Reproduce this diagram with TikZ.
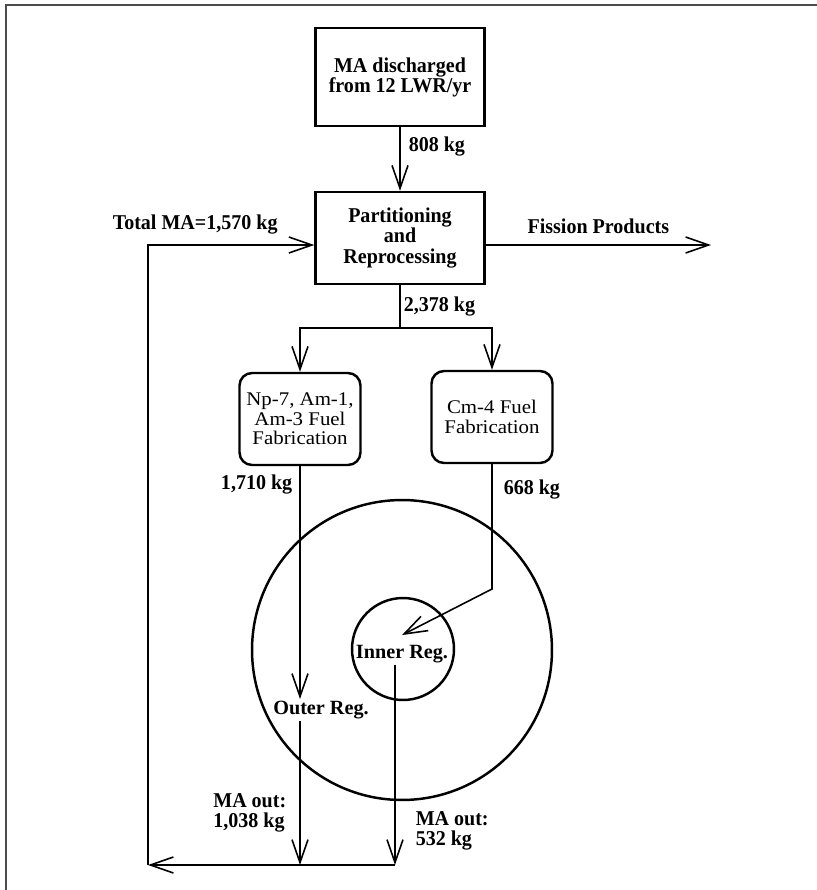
\documentclass[tikz,border=0pt]{standalone}
\usepackage{fontspec}
\setmainfont{Liberation Serif}
\newfontfamily\narrowfont{Liberation Serif}[FakeStretch=0.95]
\newfontfamily\widefont{Liberation Serif}[FakeStretch=1.08]
\usetikzlibrary{positioning,arrows.meta,calc}
\tikzset{
    x=0.02cm,
    y=-0.02cm,
    process/.style = {
        draw,
        shape=rectangle,
        minimum width=3.38cm,
        minimum height=1.9cm,
        line width=1.4pt,
        align=center,
        font=\narrowfont\bfseries\fontsize{12}{11.4}\selectfont
    },
    fabrication/.style = {
        draw,
        shape=rectangle,
        rounded corners=0.25cm,
        minimum width=2.42cm,
        minimum height=1.84cm,
        line width=1.4pt,
        align=center,
        font=\widefont\fontsize{11}{11.2}\selectfont
    },
    region/.style = {
        draw,
        shape=circle,
        inner sep=0pt,
        line width=1.4pt
    },
    regname/.style = {
        font=\bfseries\fontsize{11.5}{12}\selectfont,
        inner sep=1pt
    },
    amount/.style = {
        font=\narrowfont\bfseries\fontsize{12}{11.4}\selectfont,
        align=left,
        inner sep=0pt
    },
    flow/.style = {
        draw,
        line width=0.9pt,
        ->
    },
    >={Straight Barb[length=4.6mm,width=3.2mm]},
}

\begin{document}
\begin{tikzpicture}
            \useasboundingbox (0,0) rectangle (817,890);
            \draw[line width=1.2pt, black!70] (6,890) -- (6,5) -- (817,5);

            \node[process, minimum height=1.96cm] (source) at (400,77) {MA discharged\\from 12 LWR/yr};
            \node[process, minimum height=1.84cm] (partition) at (400,238) {Partitioning\\and\\Reprocessing};
            \node[fabrication] (npfab) at (300,419) {Np-7, Am-1,\\Am-3 Fuel\\Fabrication};
            \node[fabrication] (cmfab) at (492,417) {Cm-4 Fuel\\Fabrication};
            \node[region, minimum size=6cm] (outer) at (402,650) {};
            \node[region, minimum size=2.04cm] (inner) at (403,649) {};
            \node[regname] (innerlab) at (402,654) {Inner Reg.};
            \node[regname] (outerlab) at (321,710) {Outer Reg.};

            \coordinate (split) at (400,328);
            \coordinate (bend) at (497,589);
            \coordinate (outjoin) at (300,865);
            \coordinate (innjoin) at (395,865);
            \coordinate (loopbl) at (148,865);
            \coordinate (looptl) at (148,245);
            \coordinate (fission) at (711,245);

            \path[flow] (source) -- (partition) node [amount, pos=0.3, right=0.16cm] {808 kg};
            \path[draw, line width=0.9pt] (partition.south) -- (split) node [amount, midway, right=0.06cm] {2,378 kg};
            \path[flow] (split) -| (npfab.north);
            \path[flow] (split) -| (cmfab.north);

            \path[flow] (npfab.south) -- (npfab.south |- outerlab.north) node [amount, pos=0.08, left=0.14cm] {1,710 kg};
            \path[flow] (cmfab.south) -- node [amount, pos=0.2, right=0.22cm] {668 kg} (cmfab.south |- bend) -- ([yshift=0.16cm]innerlab.north);

            \path[flow] (outerlab.south -| outjoin) -- (outjoin) node [amount, pos=0.64, left=0.26cm] {MA out:\\1,038 kg};
            \path[flow] (innerlab.south -| innjoin) -- (innjoin) node [amount, pos=0.83, right=0.4cm] {MA out:\\532 kg};

            \path[flow] (innjoin) -- (loopbl);
            \path[flow] (loopbl) -- (looptl) -- (looptl -| partition.west) node [amount, midway, above=0.2cm, xshift=-0.72cm] {Total MA=1,570 kg};
            \path[flow] (looptl -| partition.east) -- (fission) node [amount, midway, above=0.2cm] {Fission Products};

        \end{tikzpicture}
\end{document}
